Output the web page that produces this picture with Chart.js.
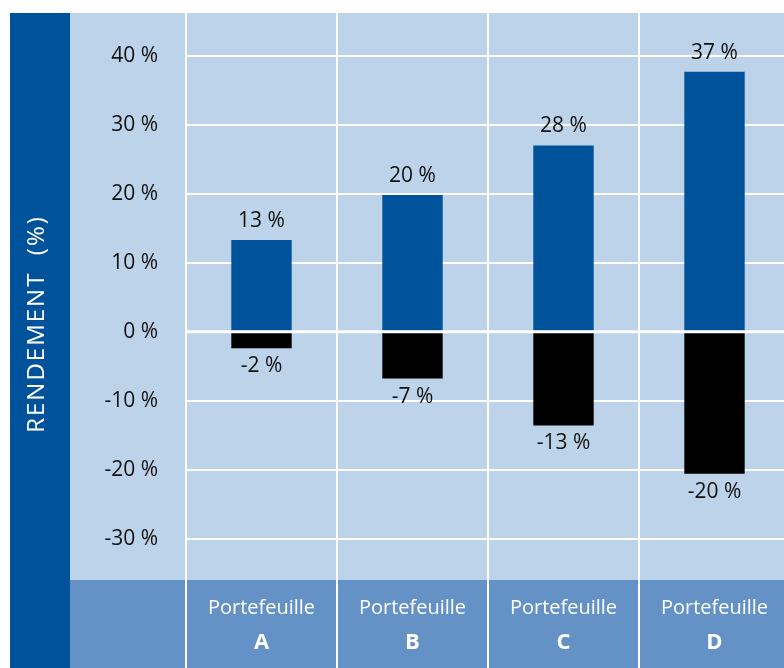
<!DOCTYPE html>
<html>
<head>
<meta charset="utf-8">
<script src="https://cdn.jsdelivr.net/npm/chart.js@4"></script>
<style>
  html, body { margin: 0; padding: 0; background: #fff; overflow: hidden; }
  #wrap { position: relative; width: 784px; height: 668px; overflow: hidden; }
  #wrap canvas { position: absolute; left: 0; top: 0; }
</style>
</head>
<body>
<div id="wrap"><canvas id="chart" width="800" height="668"></canvas></div>
<script>
// Data
const portfolios = ["A", "B", "C", "D"];
const bestReturns = [13.3, 19.8, 27.0, 37.7];
const worstReturns = [-2.4, -6.8, -13.6, -20.6];
const bestLabels = ["13 %", "20 %", "28 %", "37 %"];
const worstLabels = ["-2 %", "-7 %", "-13 %", "-20 %"];
const yTicks = [-30, -20, -10, 0, 10, 20, 30, 40];

const FONT = "'Open Sans', 'DejaVu Sans', sans-serif";
const DARK = "#00529b";
const LIGHT = "#bcd3ea";
const MID = "#6492c6";

// backgrounds, zero line, value labels, side title
const decor = {
    id: "decor",
    beforeDraw(chart) {
        const ctx = chart.ctx, a = chart.chartArea;
        ctx.save();
        ctx.fillStyle = "#ffffff";
        ctx.fillRect(0, 0, chart.width, chart.height);
        ctx.fillStyle = DARK;
        ctx.fillRect(10, a.top, 60, chart.height - a.top);
        ctx.fillStyle = LIGHT;
        ctx.fillRect(70, a.top, chart.width - 70, a.bottom - a.top);
        ctx.fillStyle = MID;
        ctx.fillRect(70, a.bottom, chart.width - 70, chart.height - a.bottom);
        ctx.restore();
    },
    afterDatasetsDraw(chart) {
        const ctx = chart.ctx, a = chart.chartArea;
        const y0 = chart.scales.y.getPixelForValue(0);
        ctx.save();
        ctx.strokeStyle = "#ffffff";
        ctx.lineWidth = 3;
        ctx.beginPath();
        ctx.moveTo(a.left, y0);
        ctx.lineTo(a.right, y0);
        ctx.stroke();

        ctx.fillStyle = "#111111";
        ctx.font = "21px " + FONT;
        ctx.textAlign = "center";
        ctx.textBaseline = "middle";
        chart.getDatasetMeta(0).data.forEach((bar, i) => {
            ctx.fillText(bestLabels[i], bar.x, bar.y - 19);
        });
        chart.getDatasetMeta(1).data.forEach((bar, i) => {
            ctx.fillText(worstLabels[i], bar.x, bar.y + 18);
        });

        ctx.translate(37, 324);
        ctx.rotate(-Math.PI / 2);
        ctx.fillStyle = "#ffffff";
        ctx.font = "24px " + FONT;
        ctx.letterSpacing = "2px";
        ctx.fillText("RENDEMENT  (%)", 0, 0);
        ctx.restore();
    }
};

new Chart(document.getElementById("chart"), {
    type: "bar",
    data: {
        labels: portfolios,
        datasets: [{
            label: "Meilleur rendement",
            data: bestReturns,
            backgroundColor: DARK,
            barPercentage: 0.4,
            categoryPercentage: 1
        }, {
            label: "Pire rendement",
            data: worstReturns,
            backgroundColor: "#000000",
            barPercentage: 0.4,
            categoryPercentage: 1
        }]
    },
    options: {
        responsive: false,
        animation: false,
        layout: { padding: { top: 13, left: 70, right: 10, bottom: 0 } },
        plugins: { legend: { display: false }, tooltip: { enabled: false } },
        scales: {
            x: {
                stacked: true,
                offset: true,
                grid: { color: "#ffffff", lineWidth: 2, offset: true, drawTicks: true, tickLength: 88, tickColor: "#ffffff", tickWidth: 2 },
                border: { display: false },
                ticks: {
                    padding: -72,
                    color: "#ffffff",
                    font: { family: FONT, size: 20 },
                    callback: () => "Portefeuille"
                },
                afterFit: s => { s.height = 38; s.paddingLeft = 0; s.paddingRight = 0; }
            },
            x2: {
                type: "category",
                labels: portfolios,
                position: "bottom",
                offset: true,
                grid: { display: false, drawTicks: false },
                border: { display: false },
                ticks: { padding: 12, color: "#ffffff", font: { family: FONT, size: 22, weight: "bold" } },
                afterFit: s => { s.height = 50; s.paddingLeft = 0; s.paddingRight = 0; }
            },
            y: {
                stacked: true,
                min: -36,
                max: 46.2,
                afterBuildTicks: s => { s.ticks = yTicks.map(v => ({ value: v })); },
                grid: { color: "#ffffff", lineWidth: 2, drawTicks: false },
                border: { display: false },
                ticks: {
                    padding: 28,
                    color: "#111111",
                    font: { family: FONT, size: 21 },
                    callback: v => v + " %"
                },
                afterFit: s => { s.width = 116; s.paddingTop = 0; s.paddingBottom = 0; }
            }
        }
    },
    plugins: [decor]
});
</script>
</body>
</html>
